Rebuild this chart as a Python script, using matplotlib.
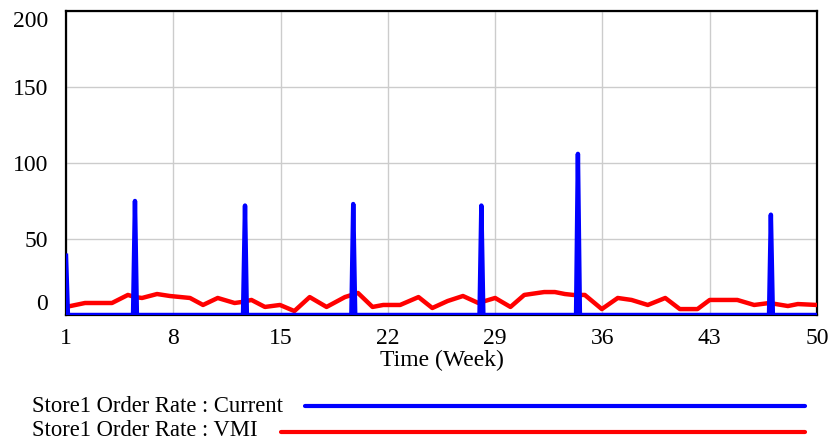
import matplotlib.pyplot as plt
from matplotlib.lines import Line2D

plt.rcParams['font.family'] = ['Liberation Serif', 'DejaVu Serif']

# Store1 Order Rate : Current  (spiky ordering)
current_t = [1, 1.125,
             5.375, 5.5, 5.625,
             12.55, 12.68, 12.8,
             19.62, 19.74, 19.87,
             27.98, 28.1, 28.23,
             34.28, 34.4, 34.53,
             46.87, 46.99, 47.12,
             50]
current_v = [39, 0,
             0, 75, 0,
             0, 72, 0,
             0, 73, 0,
             0, 72, 0,
             0, 106, 0,
             0, 66, 0,
             0]

# Store1 Order Rate : VMI
vmi_t = [1, 2.24, 4.0, 5.04, 5.5, 5.96, 6.94, 7.78, 9.09, 9.94, 10.9, 12.0,
         12.5, 13.1, 13.98, 14.96, 15.9, 16.9, 18.0, 19.2, 20.05, 21.0, 21.7,
         22.8, 24.0, 24.9, 25.9, 26.9, 27.9, 29.0, 30.0, 30.9, 32.2, 32.9,
         33.55, 34.1, 34.85, 35.96, 37.0, 37.9, 38.96, 40.1, 41.05, 42.2,
         43.0, 44.8, 45.9, 46.9, 48.1, 48.75, 50]
vmi_v = [5.3, 7.9, 7.9, 13.2, 11.8, 11.2, 13.8, 12.5, 11.2, 6.6, 11.2, 7.9,
         8.6, 9.9, 5.3, 6.6, 2.6, 11.8, 5.3, 11.8, 14.5, 5.3, 6.6,
         6.6, 11.8, 4.6, 9.2, 12.5, 7.9, 11.2, 5.3, 13.2, 15.1, 15.1,
         13.8, 13.2, 13.2, 3.9, 11.2, 9.9, 6.6, 11.2, 3.9, 3.9,
         9.9, 9.9, 6.6, 7.9, 5.9, 7.2, 6.6]

x_ticks = [1, 8, 15, 22, 29, 36, 43, 50]
y_ticks = [0, 50, 100, 150, 200]

fig = plt.figure(figsize=(8.3, 4.4), dpi=100)
ax = fig.add_axes([66 / 830, 125 / 440, 751 / 830, 304 / 440])

ax.plot(vmi_t, vmi_v, color='#ff0000', lw=3.2, solid_joinstyle='round', zorder=3)
ax.plot(current_t, current_v, color='#0000ff', lw=3.2, solid_joinstyle='round', zorder=4)

ax.set_xlim(1, 50)
ax.set_ylim(0, 200)
ax.set_xticks(x_ticks)
ax.set_yticks(y_ticks)
ax.grid(True, color='#cccccc', lw=1)
ax.set_axisbelow(True)
ax.tick_params(length=0, labelsize=17, pad=9)
ax.tick_params(axis='y', pad=13)
ylabels = ax.get_yticklabels()
ylabels[0].set_va('bottom')
ylabels[-1].set_va('top')
for s in ax.spines.values():
    s.set_linewidth(1.6)
    s.set_color('black')
ax.set_xlabel('Time (Week)', fontsize=17, labelpad=1)

# legend drawn below the axes
fig.text(32 / 830, 1 - 406 / 440, 'Store1 Order Rate : Current', fontsize=16.3, va='center')
fig.text(32 / 830, 1 - 430 / 440, 'Store1 Order Rate : VMI', fontsize=16.3, va='center')
fig.add_artist(Line2D([305 / 830, 805 / 830], [1 - 406 / 440] * 2, color='#0000ff', lw=3,
                      solid_capstyle='round'))
fig.add_artist(Line2D([281 / 830, 805 / 830], [1 - 432 / 440] * 2, color='#ff0000', lw=3,
                      solid_capstyle='round'))

fig.savefig('out.png', dpi=100)
